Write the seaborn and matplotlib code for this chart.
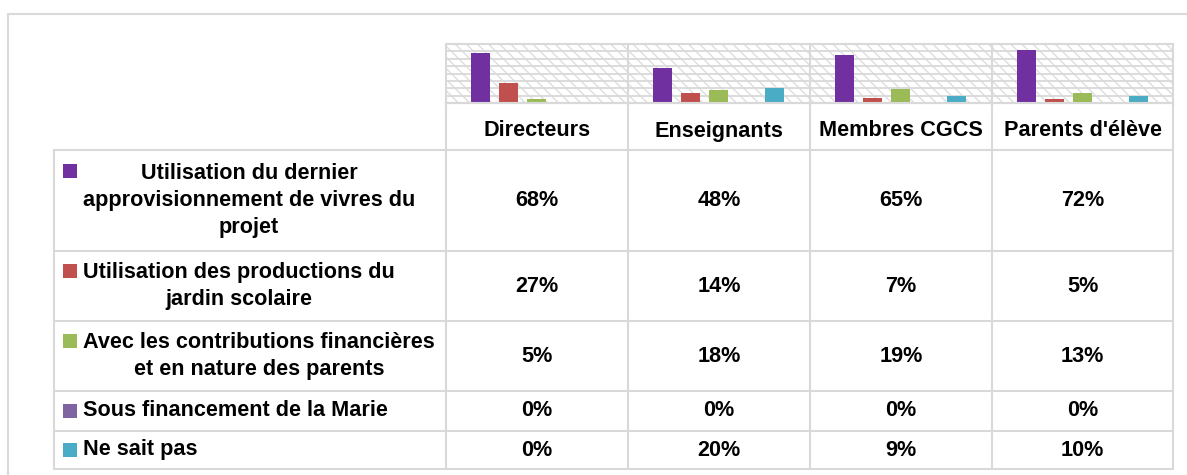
import pandas as pd
import seaborn as sns
import matplotlib.pyplot as plt
from matplotlib import font_manager
from matplotlib.patches import Rectangle
from matplotlib.lines import Line2D

# data (percent)
groups = ["Directeurs", "Enseignants", "Membres CGCS", "Parents d'élève"]
series_labels = [
    "Utilisation du dernier\napprovisionnement de vivres du\nprojet",
    "Utilisation des productions du\njardin scolaire",
    "Avec les contributions financières\net en nature des parents",
    "Sous financement de la Marie",
    "Ne sait pas",
]
dernier_appro = [68, 48, 65, 72]
jardin = [27, 14, 7, 5]
contributions = [5, 18, 19, 13]
marie = [0, 0, 0, 0]
ne_sait_pas = [0, 20, 9, 10]
colors = ["#7030A0", "#C0504D", "#9BBB59", "#8064A2", "#4BACC6"]

values = [dernier_appro, jardin, contributions, marie, ne_sait_pas]
names = [s.replace("\n", " ") for s in series_labels]
rows = []
for name, vals in zip(names, values):
    for g, v in zip(groups, vals):
        rows.append({"groupe": g, "serie": name, "valeur": v})
data = pd.DataFrame(rows)

W, H = 1187, 475
GRID = "#D9D9D9"

# font: narrow bold if available
try:
    font_manager.findfont(font_manager.FontProperties(family="Liberation Sans Narrow"),
                          fallback_to_default=False)
    FAMILY, FS = "Liberation Sans Narrow", 18.5
except Exception:
    FAMILY, FS = "Liberation Sans", 15.6

sns.set_style("white")
plt.rcParams["font.family"] = [FAMILY, "DejaVu Sans"]
plt.rcParams["hatch.linewidth"] = 1.0
plt.rcParams["text.color"] = "black"

fig = plt.figure(figsize=(W / 100, H / 100), dpi=100)


def fx(x):
    return x / W


def fy(y):
    return 1 - y / H


# plot area
x0, x1, y0, y1 = 446, 1173, 44, 103
ax = fig.add_axes([fx(x0), fy(y1), fx(x1 - x0), (y1 - y0) / H])
ax.add_patch(Rectangle((0, 0), 1, 1, transform=ax.transAxes, facecolor="white",
                       edgecolor="#DEDEDE", hatch="\\\\\\", lw=0, zorder=0))
sns.barplot(data=data, x="groupe", y="valeur", hue="serie", order=groups,
            hue_order=names, palette=colors, saturation=1, width=0.77, gap=0.32,
            linewidth=0, legend=False, errorbar=None, ax=ax, zorder=3)
ax.set_xlim(-0.5, 3.5)
ax.set_ylim(0, 80)
ax.set_yticks(range(0, 81, 10))
ax.yaxis.grid(True, color=GRID, lw=1.3)
ax.set_axisbelow(True)
ax.tick_params(length=0, labelleft=False, labelbottom=False)
ax.set_xlabel("")
ax.set_ylabel("")
for s in ax.spines.values():
    s.set_color(GRID)
    s.set_linewidth(1.5)


def hline(y, xa, xb, lw=1.5):
    fig.add_artist(Line2D([fx(xa), fx(xb)], [fy(y), fy(y)], color=GRID, lw=lw))


def vline(x, ya, yb, lw=1.5):
    fig.add_artist(Line2D([fx(x), fx(x)], [fy(ya), fy(yb)], color=GRID, lw=lw))


# outer chart frame
hline(14, 8, W, lw=1.5)
vline(8, 14, H, lw=1.5)

# data table grid
col_edges = [446, 628, 810, 992, 1173]
row_edges = [150, 251, 321, 391, 431, 469]
left = 54
hline(103, 446, 1173)
for y in row_edges:
    hline(y, left, 1173)
vline(left, 150, 469)
for x in col_edges:
    vline(x, 44 if x not in (446, 1173) else 103, 469)

# header labels
for i, g in enumerate(groups):
    cx = (col_edges[i] + col_edges[i + 1]) / 2
    fig.text(fx(cx), fy(131), g, ha="center", va="center", fontsize=FS,
             fontweight="bold")

# row labels, legend keys and values
line_h = 30
lsp = line_h / (FS * 100 / 72)
for r, (lab, vals, c) in enumerate(zip(series_labels, values, colors)):
    cy = (row_edges[r] + row_edges[r + 1]) / 2
    nl = lab.count("\n") + 1
    fig.text(fx(83), fy(cy), lab, ha="left", va="center", multialignment="center",
             fontsize=FS, fontweight="bold", linespacing=lsp)
    ky = cy - (nl - 1) * line_h / 2
    fig.add_artist(Rectangle((fx(63), fy(ky + 7)), fx(14), 14 / H,
                             facecolor=c, edgecolor="none"))
    for i, v in enumerate(vals):
        cx = (col_edges[i] + col_edges[i + 1]) / 2
        fig.text(fx(cx), fy(cy), f"{v}%", ha="center", va="center",
                 fontsize=FS, fontweight="bold")

plt.savefig("out.png", dpi=100)
